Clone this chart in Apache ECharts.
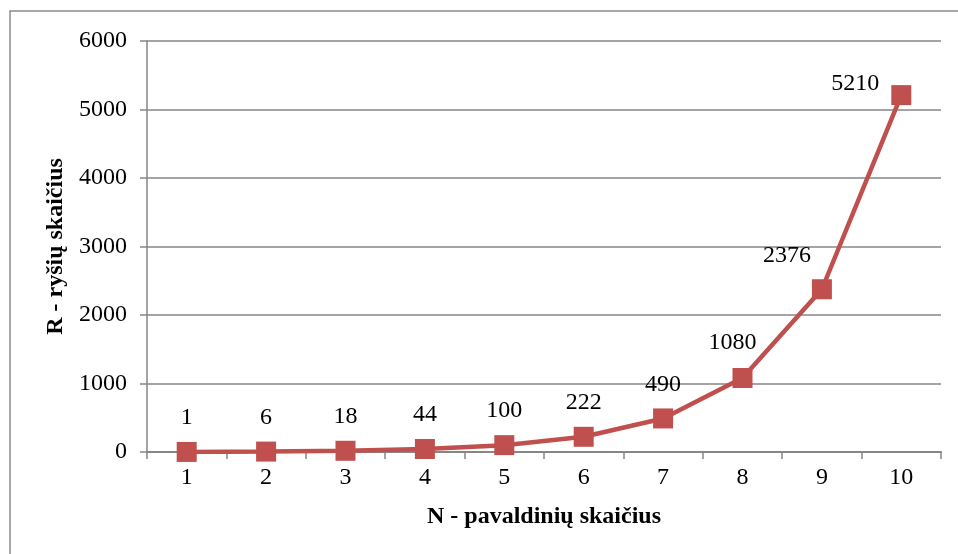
<!DOCTYPE html>
<html>
<head>
<meta charset="utf-8">
<script src="https://cdn.jsdelivr.net/npm/echarts@6/dist/echarts.min.js"></script>
<style>
html,body{margin:0;padding:0;background:#fff;}
#c{width:958px;height:554px;}
</style>
</head>
<body>
<div id="c"></div>
<script>
var categories = ['1','2','3','4','5','6','7','8','9','10'];
var values = [1, 6, 18, 44, 100, 222, 490, 1080, 2376, 5210];
var yTicks = [0, 1000, 2000, 3000, 4000, 5000, 6000];
var xTitle = 'N - pavaldinių skaičius';
var yTitle = 'R - ryšių skaičius';

// label offsets (style only)
var labelOffsets = [[0,-34],[0,-34],[0,-34],[0,-34],[0,-34],[0,-34],[0,-34],[-10,-35],[-35,-34],[-46,-11]];

var font = 'Liberation Serif, Times New Roman, serif';
var chart = echarts.init(document.getElementById('c'), null, {renderer:'canvas'});
var seriesData = values.map(function(v, i){
  return {value: v, label: {offset: labelOffsets[i]}};
});
chart.setOption({
  animation: false,
  backgroundColor: '#fff',
  graphic: [{
    type: 'rect',
    shape: {x: 10, y: 11, width: 1000, height: 600},
    style: {fill: 'none', stroke: '#8c8c8c', lineWidth: 1.5},
    silent: true
  }],
  grid: {left: 147, right: 17, top: 41, bottom: 102},
  xAxis: {
    type: 'category',
    data: categories,
    boundaryGap: true,
    name: xTitle,
    nameLocation: 'middle',
    nameGap: 53,
    nameTextStyle: {fontFamily: font, fontSize: 24, fontWeight: 'bold', color: '#000'},
    axisLine: {lineStyle: {color: '#868686', width: 2}},
    axisTick: {show: true, length: 7, alignWithLabel: false, lineStyle: {color: '#868686', width: 1.5}},
    axisLabel: {fontFamily: font, fontSize: 24, color: '#000', margin: 14}
  },
  yAxis: {
    type: 'value',
    min: yTicks[0],
    max: yTicks[yTicks.length-1],
    interval: 1000,
    name: yTitle,
    nameLocation: 'middle',
    nameGap: 74,
    nameRotate: 90,
    nameTextStyle: {fontFamily: font, fontSize: 24, fontWeight: 'bold', color: '#000'},
    axisLine: {show: true, lineStyle: {color: '#868686', width: 1.5}},
    axisTick: {show: true, length: 7, lineStyle: {color: '#868686', width: 1.5}},
    axisLabel: {fontFamily: font, fontSize: 24, color: '#000', margin: 20, formatter: function(v){ return String(v); }},
    splitLine: {lineStyle: {color: '#868686', width: 1.5}}
  },
  series: [{
    type: 'line',
    data: seriesData,
    symbol: 'rect',
    symbolSize: 20,
    lineStyle: {color: '#C0504D', width: 4.5},
    itemStyle: {color: '#C0504D', borderColor: '#C0504D', borderWidth: 0},
    label: {
      show: true,
      position: 'inside',
      fontFamily: font,
      fontSize: 24,
      color: '#000'
    },
    z: 3
  }]
});
</script>
</body>
</html>
